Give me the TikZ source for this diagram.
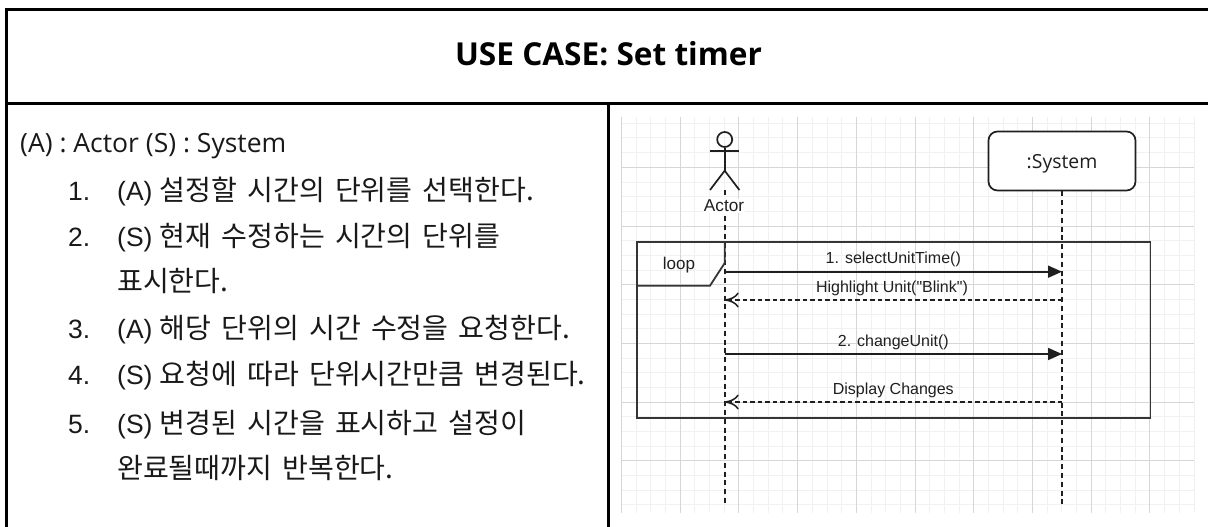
\documentclass[tikz,border=0pt]{standalone}
\usepackage{fontspec}
\usetikzlibrary{arrows.meta}
\setmainfont{Liberation Sans}
\newfontfamily\plainsans{Liberation Sans}
\newfontfamily\kr[WordSpace=1.6]{Noto Sans CJK KR}
\newfontfamily\opens{Open Sans}
\definecolor{gridminor}{HTML}{F1F1F1}
\definecolor{gridmajor}{HTML}{D6D6D6}
\definecolor{ink}{HTML}{1F1F1F}
\newcommand{\krt}[1]{{\kr\fontsize{28.1}{32}\selectfont #1}}
\tikzset{
  x=1pt,y=-1pt,
  frameline/.style={line width=3pt,black},
  bodytext/.style={anchor=base west,inner sep=0pt,text=black!90,font=\fontsize{26.5}{30}\selectfont},
  msglabel/.style={anchor=base,inner sep=0pt,font=\plainsans\fontsize{16}{20}\selectfont,text=ink},
  lifeline/.style={line width=2pt,ink,dash pattern=on 5pt off 3.8pt},
  msgcall/.style={line width=1.7pt,ink,-{Triangle[length=14pt,width=12pt]}},
  msgret/.style={line width=1.5pt,ink,dash pattern=on 4.5pt off 3pt,-{To[length=14pt,width=15pt,line width=1.5pt]}},
  actorline/.style={line width=1.7pt,ink},
}
\begin{document}
\begin{tikzpicture}
\useasboundingbox (0,0) rectangle (1208,527);
% grid
\foreach \i in {0,...,39}{
  \draw[gridminor,line width=1pt] ({621.5+\i*14.68},117) -- ({621.5+\i*14.68},513);
}
\foreach \i in {0,...,26}{
  \draw[gridminor,line width=1pt] (621.5,{123.3+\i*14.68}) -- (1194,{123.3+\i*14.68});
}
\foreach \i in {0,...,9}{
  \draw[gridmajor,line width=1pt] ({621.5+\i*58.72},117) -- ({621.5+\i*58.72},513);
}
\foreach \i in {0,...,5}{
  \draw[gridmajor,line width=1pt] (621.5,{167.3+\i*58.72}) -- (1194,{167.3+\i*58.72});
}
% table
\coordinate (ftl) at (6.5,9.5);
\coordinate (ftr) at (1208,9.5);
\coordinate (fbl) at (6.5,527);
\coordinate (ml) at (6.5,103.5);
\coordinate (mr) at (1208,103.5);
\coordinate (dt) at (608.5,103.5);
\coordinate (db) at (608.5,527);
\draw[frameline,line cap=rect] (fbl) -- (ftl) -- (ftr);
\draw[frameline] (ml) -- (mr);
\draw[frameline] (dt) -- (db);
\node[anchor=base,inner sep=0pt,font=\opens\bfseries\fontsize{31.6}{36}\selectfont] (title) at (608.5,66) {USE CASE: Set timer};
% left text
\node[bodytext,font=\opens\fontsize{26.5}{30}\selectfont] (hdr) at (20,152) {(A) : Actor (S) : System};
\node[bodytext] (n1) at (68,200) {1.};
\node[bodytext] (t1) at (117,200) {(A) \krt{설정할 시간의 단위를 선택한다.}};
\node[bodytext] (n2) at (68,246) {2.};
\node[bodytext] (t2) at (117,246) {(S) \krt{현재 수정하는 시간의 단위를}};
\node[bodytext] (t2b) at (117,291) {\krt{표시한다.}};
\node[bodytext] (n3) at (68,338) {3.};
\node[bodytext] (t3) at (117,338) {(A) \krt{해당 단위의 시간 수정을 요청한다.}};
\node[bodytext] (n4) at (68,384) {4.};
\node[bodytext] (t4) at (117,384) {(S) \krt{요청에 따라 단위시간만큼 변경된다.}};
\node[bodytext] (n5) at (68,433) {5.};
\node[bodytext] (t5) at (117,433) {(S) \krt{변경된 시간을 표시하고 설정이}};
\node[bodytext] (t5b) at (117,478) {\krt{완료될때까지 반복한다.}};
% lifelines
\coordinate (aTop) at (724.7,190);
\coordinate (aEnd) at (724.7,503.5);
\coordinate (sEnd) at (1062,503.5);
\node[draw=ink,line width=1.7pt,rounded corners=9pt,fill=white,minimum width=147pt,minimum height=59pt,inner sep=0pt,text height=14pt,text depth=0pt,font=\opens\fontsize{19.4}{22}\selectfont,text=ink] (sys) at (1062,161) {:System};
\draw[lifeline] (aTop) -- (aEnd);
\draw[lifeline] (sys.south) -- (sEnd);
% actor
\node[draw=ink,line width=1.7pt,circle,minimum size=15pt,inner sep=0pt] (head) at (724.7,139.5) {};
\coordinate (hipa) at (724.7,170.7);
\coordinate (arml) at (710,151.3);
\coordinate (armr) at (739.4,151.3);
\coordinate (legl) at (710,190);
\coordinate (legr) at (739.4,190);
\draw[actorline] (head.south) -- (hipa);
\draw[actorline] (arml) -- (armr);
\draw[actorline] (legl) -- (hipa) -- (legr);
\node[fill=white,inner sep=1pt,font=\fontsize{17.2}{20}\selectfont,text=ink] (actlab) at (724,205.5) {Actor};
% loop frame
\draw[line width=1.8pt,ink!90] (636.7,241.7) rectangle (1150.5,418.2);
\coordinate (lf1) at (636.7,285.7);
\coordinate (lf2) at (710,285.7);
\coordinate (lf3) at (724.7,263);
\coordinate (lf4) at (724.7,241.7);
\draw[line width=1.8pt,ink!90] (lf1) -- (lf2) -- (lf3) -- (lf4);
\node[inner sep=0pt,font=\fontsize{17}{20}\selectfont,text=ink] (looplab) at (679,265.5) {loop};
% messages
\coordinate (a1) at (724.7,271.7);
\coordinate (s1) at (1062,271.7);
\coordinate (s2) at (1062,300);
\coordinate (a2) at (724.7,300);
\coordinate (a3) at (724.7,354);
\coordinate (s3) at (1062,354);
\coordinate (s4) at (1062,402);
\coordinate (a4) at (724.7,402);
\draw[msgcall] (a1) -- (s1);
\draw[msgret] (s2) -- (a2);
\draw[msgcall] (a3) -- (s3);
\draw[msgret] (s4) -- (a4);
\node[msglabel] (m1) at (893.3,263) {1. selectUnitTime()};
\node[msglabel] (m2) at (892,292) {Highlight Unit("Blink")};
\node[msglabel] (m3) at (893.3,346) {2. changeUnit()};
\node[msglabel] (m4) at (893.3,394) {Display Changes};
\end{tikzpicture}
\end{document}
